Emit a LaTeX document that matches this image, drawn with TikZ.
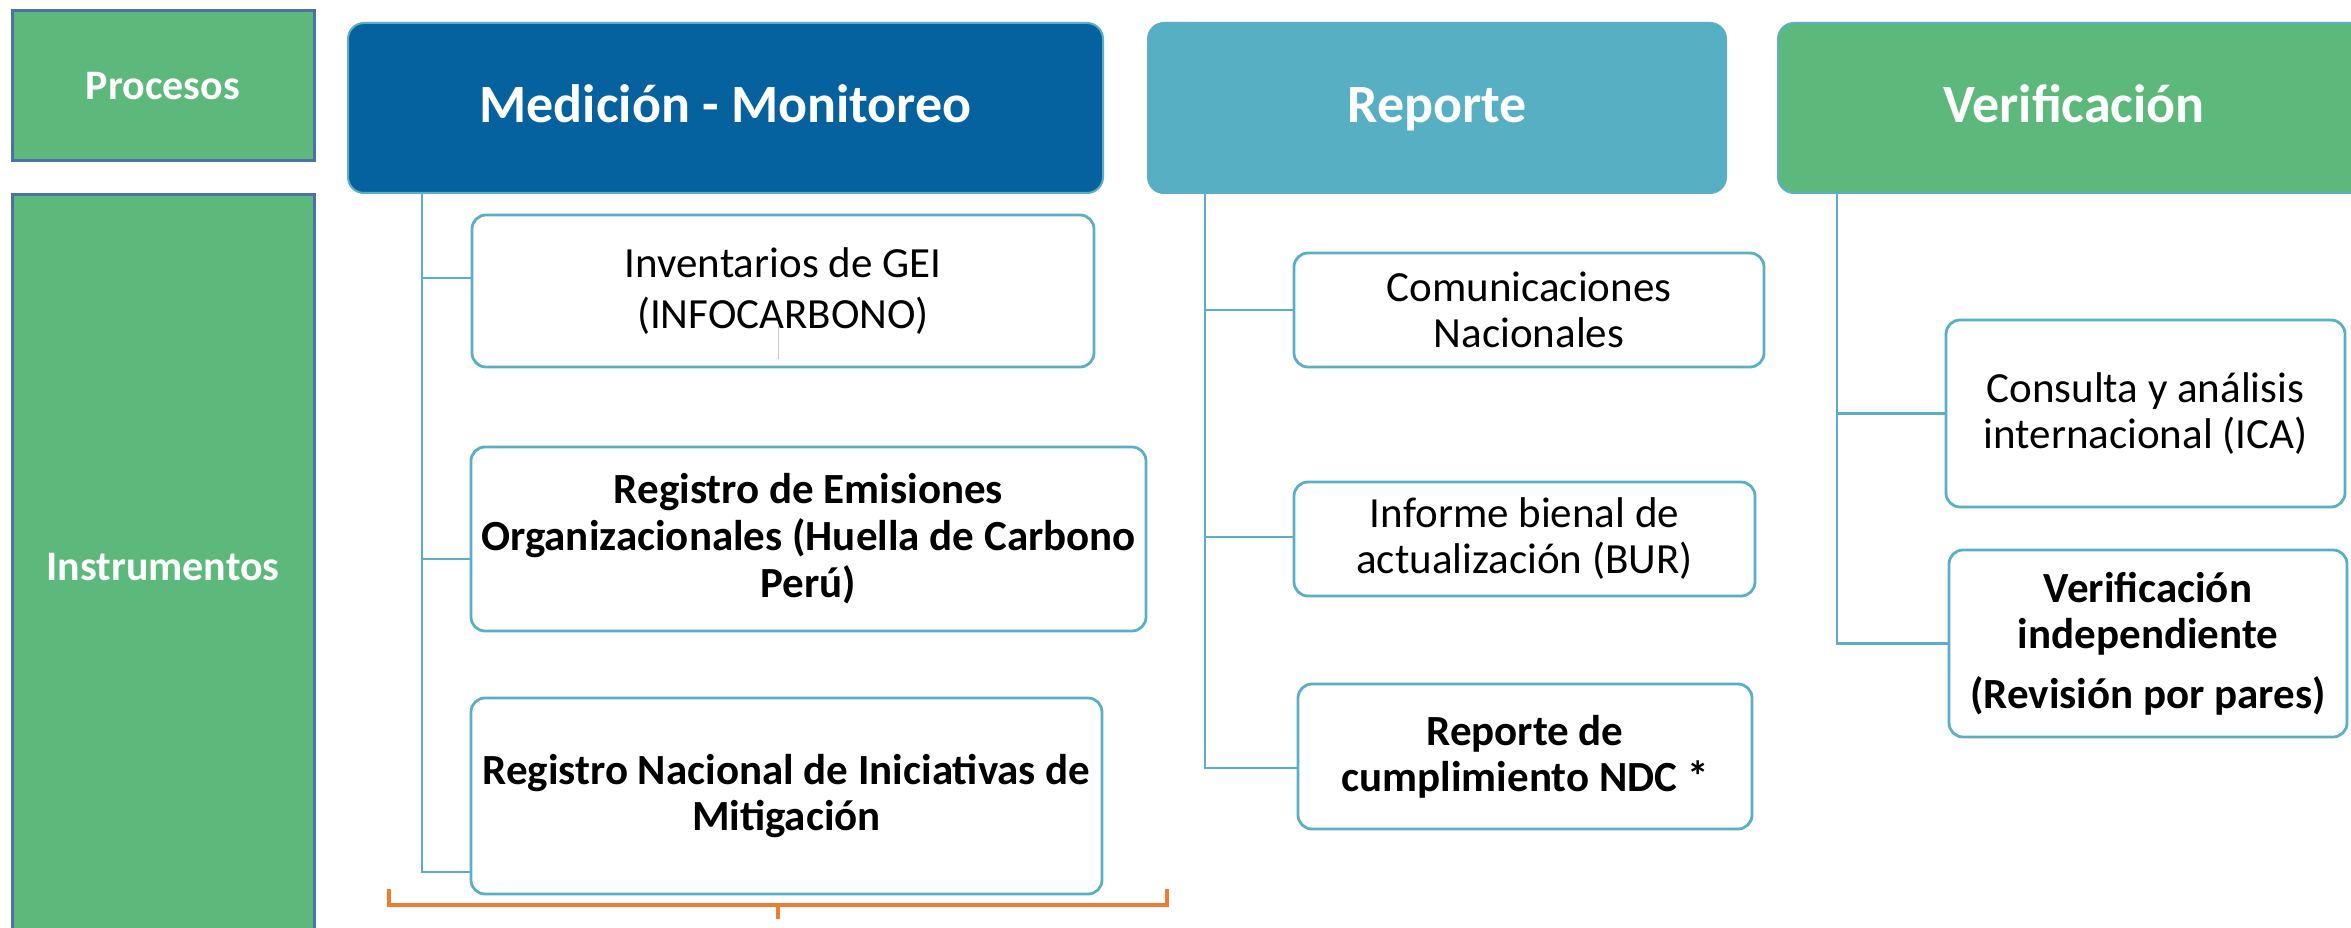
\documentclass[tikz,border=0pt]{standalone}
\usepackage{fontspec}
\setmainfont{Carlito}
\definecolor{greenfill}{HTML}{5CB97B}
\definecolor{sideborder}{HTML}{4F6FA8}
\definecolor{darkblue}{HTML}{05629F}
\definecolor{tealfill}{HTML}{56AFC3}
\definecolor{linecol}{HTML}{5AAFC6}
\definecolor{bracecol}{HTML}{ED7D31}
\begin{document}
\begin{tikzpicture}[x=1pt,y=-1pt,
  conn/.style={draw=linecol, line width=2.4pt},
  childbox/.style={draw=linecol, line width=2.8pt, rounded corners=14pt, fill=white, align=center, inner sep=0pt, text=black, font=\fontsize{43}{49}\selectfont},
  headbox/.style={draw=linecol, line width=2pt, rounded corners=16pt, align=center, inner sep=0pt, text=white, minimum height=170pt, text height=40pt, text depth=10pt, font=\fontsize{54}{60}\selectfont\bfseries},
  sidebox/.style={fill=greenfill, draw=sideborder, line width=3pt, text=white, inner sep=0pt, minimum width=302pt, font=\fontsize{42}{48}\selectfont\bfseries},
  bracestyle/.style={draw=bracecol, line width=4.5pt}
]
\useasboundingbox (0,0) rectangle (2351,928);
\fill[white] (0,0) rectangle (2351,928);

% left column
\node[sidebox, minimum height=150pt] (proc) at (163,86) {Procesos};
\node[sidebox, minimum height=745pt] (instr) at (163,567.5) {Instrumentos};

% headers
\node[headbox, fill=darkblue, minimum width=755pt] (med) at (725.5,108) {Medición - Monitoreo};
\node[headbox, fill=tealfill, minimum width=578pt] (rep) at (1437,108) {Reporte};
\node[headbox, fill=greenfill, minimum width=592pt] (ver) at (2074,108) {Verificación};

% Medicion children
\node[childbox, minimum width=622pt, minimum height=152pt, font=\fontsize{43}{51}\selectfont] (inv) at (783,291) {Inventarios de GEI\\(INFOCARBONO)};
\node[childbox, minimum width=675pt, minimum height=184pt, font=\fontsize{43}{47}\selectfont\bfseries] (rem) at (808.5,539) {Registro de Emisiones\\Organizacionales (Huella de Carbono\\Perú)};
\node[childbox, minimum width=631pt, minimum height=196pt, font=\fontsize{43}{46}\selectfont\bfseries] (rni) at (786.5,796) {Registro Nacional de Iniciativas de\\Mitigación};
\draw[gray!45, line width=0.8pt] (inv.center) ++(-5,35) -- ++(0,33);

% Reporte children
\node[childbox, minimum width=470pt, minimum height=114pt, font=\fontsize{43}{46}\selectfont] (com) at (1529,310) {Comunicaciones\\Nacionales};
\node[childbox, minimum width=461pt, minimum height=114pt, font=\fontsize{43}{46}\selectfont] (inf) at (1524.5,539) {Informe bienal de\\actualización (BUR)};
\node[childbox, minimum width=454pt, minimum height=145pt, font=\fontsize{43}{46}\selectfont\bfseries] (ndc) at (1525,756.5) {Reporte de\\cumplimiento NDC *};

% Verificacion children
\node[childbox, minimum width=399pt, minimum height=187pt, font=\fontsize{43}{46}\selectfont] (ica) at (2145.5,413.5) {Consulta y análisis\\internacional (ICA)};
\node[childbox, minimum width=398pt, minimum height=187pt, font=\fontsize{43}{46}\selectfont\bfseries] (vin) at (2148,643.5) {Verificación\\independiente\\[14pt](Revisión por pares)};

% connectors
\coordinate (mt) at ([xshift=75pt]med.south west);
\draw[conn] (mt) |- ([yshift=13pt]inv.west);
\draw[conn] (mt) |- ([yshift=-20pt]rem.west);
\draw[conn] (mt) |- ([yshift=-76pt]rni.west);

\coordinate (rt) at ([xshift=58pt]rep.south west);
\draw[conn] (rt) |- (com.west);
\draw[conn] (rt) |- ([yshift=2pt]inf.west);
\draw[conn] (rt) |- ([yshift=-11.5pt]ndc.west);

\coordinate (vt) at ([xshift=60pt]ver.south west);
\draw[conn] (vt) |- (ica.west);
\draw[conn] (vt) |- (vin.west);

% orange brace
\coordinate (bl) at (389,889);
\coordinate (br) at (1167,889);
\coordinate (bm) at (778,905);
\draw[bracestyle] (bl) -- (bl |- bm) -- (br |- bm) -- (br);
\draw[bracestyle] (bm) -- ++(0,14);
\end{tikzpicture}
\end{document}
